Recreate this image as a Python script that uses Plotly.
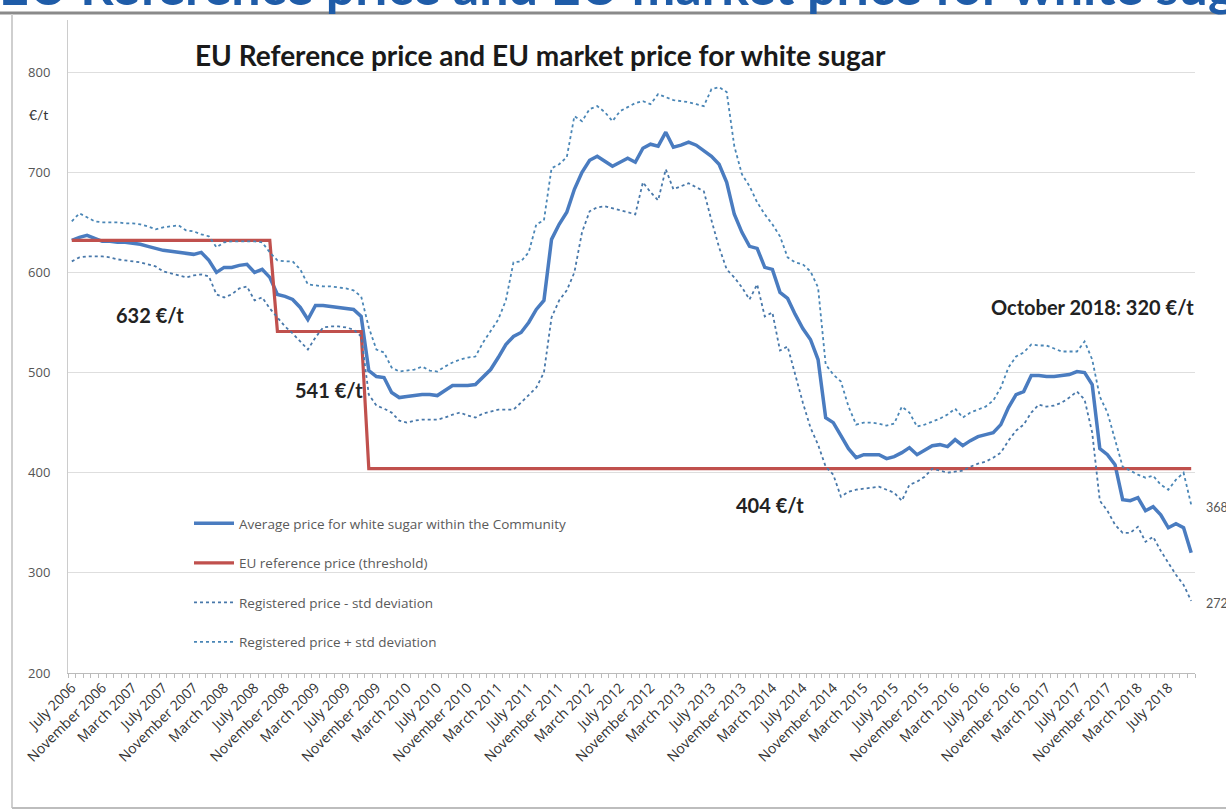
import plotly.graph_objects as go

# ---------------- data ----------------
month_names = ["January", "February", "March", "April", "May", "June", "July",
               "August", "September", "October", "November", "December"]
categories = [f"{month_names[(6 + i) % 12]} {2006 + (6 + i) // 12}" for i in range(148)]

avg_price = [632, 635, 637, 634, 631, 631, 630, 630, 629, 628, 626, 624, 622, 621, 620, 619,
             618, 620, 612, 600, 605, 605, 607, 608, 600, 603, 595, 578, 576, 573, 565, 553,
             567, 567, 566, 565, 564, 563, 556, 502, 496, 495, 480, 475, 476, 477, 478, 478,
             477, 482, 487, 487, 487, 488, 496, 503, 515, 528, 536, 540, 550, 563, 572, 633,
             648, 660, 683, 700, 712, 716, 711, 706, 710, 714, 710, 724, 728, 726, 740, 725,
             727, 730, 727, 722, 716, 708, 690, 658, 640, 626, 624, 605, 603, 580, 574, 558,
             544, 533, 513, 455, 450, 437, 424, 415, 418, 418, 418, 414, 416, 420, 425, 418,
             423, 427, 428, 426, 433, 427, 432, 436, 438, 440, 448, 465, 478, 481, 497, 497,
             496, 496, 497, 498, 501, 500, 488, 424, 418, 408, 373, 372, 375, 362, 366, 358,
             345, 349, 345, 320]

ref_price = [632] * 27 + [541] * 12 + [404] * 109

minus_std = [611, 615, 616, 616, 616, 615, 613, 612, 611, 610, 608, 606, 601, 599, 597, 595,
             597, 598, 596, 578, 575, 578, 584, 586, 572, 575, 564, 555, 546, 539, 531, 523,
             535, 545, 546, 546, 545, 543, 536, 478, 467, 464, 460, 452, 450, 452, 453, 453,
             453, 455, 458, 460, 457, 455, 459, 461, 463, 463, 463, 470, 478, 485, 500, 555,
             572, 582, 600, 640, 661, 665, 666, 664, 662, 660, 658, 690, 680, 672, 703, 683,
             686, 689, 685, 681, 652, 625, 603, 595, 585, 573, 588, 556, 560, 522, 526, 498,
             470, 445, 428, 406, 398, 376, 381, 383, 384, 385, 386, 383, 380, 372, 388, 391,
             396, 404, 402, 400, 401, 402, 406, 409, 411, 415, 420, 432, 442, 448, 460, 468,
             466, 467, 470, 475, 481, 473, 440, 372, 362, 348, 340, 340, 346, 331, 336, 322,
             310, 298, 288, 272]

plus_std = [651, 659, 655, 651, 650, 650, 650, 649, 649, 648, 646, 643, 645, 646, 647, 642,
            641, 638, 636, 625, 630, 631, 631, 631, 631, 630, 620, 612, 611, 611, 603, 588,
            587, 586, 586, 585, 584, 582, 576, 545, 523, 520, 505, 501, 502, 503, 506, 502,
            501, 506, 510, 513, 515, 516, 530, 542, 553, 572, 610, 611, 620, 648, 652, 704,
            708, 715, 756, 751, 763, 766, 760, 751, 761, 765, 769, 771, 768, 778, 775, 772,
            771, 770, 768, 766, 783, 785, 780, 726, 698, 686, 670, 658, 648, 636, 615, 610,
            608, 601, 585, 508, 498, 491, 466, 448, 450, 450, 449, 447, 449, 466, 460, 446,
            448, 451, 454, 458, 464, 455, 460, 463, 466, 472, 485, 505, 516, 520, 528, 527,
            527, 524, 521, 521, 521, 531, 513, 476, 460, 433, 406, 402, 398, 395, 397, 388,
            383, 393, 400, 368]

tick_labels = [c if i % 4 == 0 else "" for i, c in enumerate(categories)]
y_ticks = [200, 300, 400, 500, 600, 700, 800]

# ---------------- layout geometry helpers ----------------
W, H = 1226, 812
L, R, T, B = 68, 31, 20, 139
PW, PH = W - L - R, H - T - B


def px(xp):
    return (xp - L) / PW


def py(yp):
    return (H - B - yp) / PH


FONT = "Lato, 'Open Sans', sans-serif"
FONT2 = "'Open Sans', Lato, sans-serif"

fig = go.Figure()

fig.add_trace(go.Scatter(
    x=categories, y=avg_price, mode="lines",
    name="Average price for white sugar within the Community",
    line=dict(color="#4A7CC0", width=3.5), legendgroup="a"))
fig.add_trace(go.Scatter(
    x=categories, y=ref_price, mode="lines",
    name="EU reference price (threshold)",
    line=dict(color="#C0504D", width=3.2), legendgroup="b"))
fig.add_trace(go.Scatter(
    x=categories, y=minus_std, mode="lines",
    name="Registered price - std deviation",
    line=dict(color="#4878AA", width=1.8, dash="dot"), legendgroup="c"))
fig.add_trace(go.Scatter(
    x=categories, y=plus_std, mode="lines",
    name="Registered price + std deviation",
    line=dict(color="#4A86B6", width=1.8, dash="dot"), legendgroup="d"))

annotations = [
    dict(text="<b>EU Reference price and EU market price for white sugar</b>",
         x=px(540), y=py(55), font=dict(size=28, color="#1a1a1a")),
    dict(text="<b>EU Reference price and EU market price for white sugar</b>",
         x=px(640), y=py(-15), font=dict(size=52, color="#1F5CA8")),
    dict(text="€/t", x=px(38), y=py(115), font=dict(size=14, color="#333333")),
    dict(text="<b>632 €/t</b>", x=px(150), y=py(315), font=dict(size=20, color="#222222")),
    dict(text="<b>541 €/t</b>", x=px(329), y=py(390), font=dict(size=20, color="#222222")),
    dict(text="<b>404 €/t</b>", x=px(770), y=py(505), font=dict(size=20, color="#222222")),
    dict(text="<b>October 2018: 320 €/t</b>", x=px(1196), y=py(307), xanchor="right",
         font=dict(size=20, color="#222222")),
    dict(text="368", x=px(1204), y=py(507), xanchor="left", font=dict(size=12.5, color="#555555")),
    dict(text="272", x=px(1204), y=py(603), xanchor="left", font=dict(size=12.5, color="#555555")),
]
for a in annotations:
    a.setdefault("xanchor", "center")
    a.update(xref="paper", yref="paper", showarrow=False, yanchor="middle",
             font=dict(family=FONT, **a["font"]))

shapes = [
    # slide separator bar at the top
    dict(type="line", xref="paper", yref="paper", x0=px(0), x1=px(W), y0=py(13), y1=py(13),
         line=dict(color="#8a8a8a", width=3)),
    # chart frame
    dict(type="line", xref="paper", yref="paper", x0=px(12), x1=px(12), y0=py(14), y1=py(808),
         line=dict(color="#cfcfcf", width=2)),
    dict(type="line", xref="paper", yref="paper", x0=px(12), x1=px(W), y0=py(808), y1=py(808),
         line=dict(color="#bdbdbd", width=2)),
]

fig.update_layout(
    width=W, height=H,
    margin=dict(l=L, r=R, t=T, b=B),
    paper_bgcolor="white", plot_bgcolor="white",
    font=dict(family=FONT, color="#404040"),
    showlegend=True,
    legend=dict(x=px(189), y=py(508), xanchor="left", yanchor="top",
                bgcolor="rgba(0,0,0,0)", tracegroupgap=19,
                font=dict(family=FONT2, size=13.5, color="#5a5a5a"), itemwidth=40),
    annotations=annotations,
    shapes=shapes,
    xaxis=dict(type="category", range=[-0.5, 147.5],
               tickmode="array", tickvals=categories, ticktext=tick_labels,
               tickson="boundaries", ticks="outside", ticklen=4, tickcolor="#bbbbbb",
               tickangle=-45, tickfont=dict(family=FONT2, size=14, color="#333333"),
               showline=True, linecolor="#bbbbbb", linewidth=1,
               showgrid=False, zeroline=False),
    yaxis=dict(range=[200, 852], tickvals=y_ticks,
               tickfont=dict(family=FONT2, size=13, color="#555555"),
               showline=True, linecolor="#cccccc", linewidth=1,
               showgrid=True, gridcolor="#dedede", gridwidth=1,
               zeroline=False, ticks="", ticklabelstandoff=14),
)

fig.write_html("out.html", config={"displayModeBar": False},
               post_script="document.body.style.margin='0px';document.body.style.padding='0px';")
